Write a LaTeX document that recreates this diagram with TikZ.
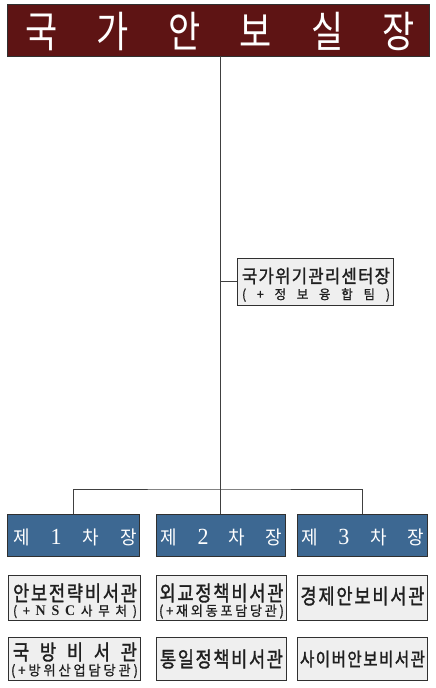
\documentclass[tikz,border=0pt]{standalone}
\usepackage{graphicx}
\usepackage{fontspec}
\newfontfamily\kr{Noto Sans CJK KR}
\newfontfamily\krm{Noto Sans CJK KR}[FakeBold=1.6]
\newfontfamily\krs{Noto Sans CJK KR}[FakeBold=1.0]
\newfontfamily\serd{Liberation Serif}
\definecolor{maroon}{HTML}{5E1414}
\definecolor{steel}{HTML}{3D6892}
\definecolor{boxgray}{HTML}{EFEFEF}
\definecolor{edge}{HTML}{303030}
\definecolor{linegray}{HTML}{404040}
\tikzset{
  titlebox/.style={draw=edge, fill=maroon, inner sep=0pt, line width=0.8pt},
  bluebox/.style={draw=edge, fill=steel, inner sep=0pt, line width=0.8pt},
  graybox/.style={draw=edge, fill=boxgray, inner sep=0pt, line width=0.8pt},
  whitetxt/.style={text=white, inner sep=0pt, font=\kr},
  darktxt/.style={text=black!88, inner sep=0pt, font=\krm},
  smalltxt/.style={text=black!88, inner sep=0pt, font=\krs},
  conn/.style={draw=linegray, line width=0.8pt},
}
\newcommand{\spr}[2]{\makebox[#1][s]{#2}}
\newcommand{\vs}[2]{\scalebox{1}[#1]{#2}}
\newcommand{\dg}[1]{{\serd\fontsize{22}{22}\selectfont #1}}
\newcommand{\lt}[1]{{\serd\bfseries\fontsize{14}{14}\selectfont #1}}
\begin{document}
\begin{tikzpicture}[x=1pt,y=-1pt]
\useasboundingbox (0,0) rectangle (436,688);
% ---------- boxes ----------
\node[titlebox, minimum width=422pt, minimum height=52pt] (t) at (218,30) {};
\node[graybox, minimum width=156pt, minimum height=47pt] (c) at (315,281.5) {};
\node[bluebox, minimum width=131.5pt, minimum height=42pt] (b1) at (73.25,535) {};
\node[bluebox, minimum width=129pt, minimum height=42pt] (b2) at (220.5,535) {};
\node[bluebox, minimum width=130pt, minimum height=42pt] (b3) at (362,535) {};
\node[graybox, minimum width=132pt, minimum height=45pt] (g1) at (74,597.5) {};
\node[graybox, minimum width=130pt, minimum height=45pt] (g2) at (221,597.5) {};
\node[graybox, minimum width=130pt, minimum height=45pt] (g3) at (362,597.5) {};
\node[graybox, minimum width=132pt, minimum height=43pt] (g4) at (74,658.5) {};
\node[graybox, minimum width=130pt, minimum height=43pt] (g5) at (221,658.5) {};
\node[graybox, minimum width=130pt, minimum height=43pt] (g6) at (362,658.5) {};
% ---------- texts ----------
\node[whitetxt] (tt) at (220,31.5)
  {\vs{1.22}{\fontsize{35}{37}\selectfont\spr{390pt}{국\hfill 가\hfill 안\hfill 보\hfill 실\hfill 장}}};
\node[darktxt] (ct1) at (316,276)
  {\vs{1.1}{\fontsize{16.6}{18}\selectfont\spr{148pt}{국\hfill 가\hfill 위\hfill 기\hfill 관\hfill 리\hfill 센\hfill 터\hfill 장}}};
\node[smalltxt] (ct2) at (316,295)
  {\vs{1.05}{\fontsize{12.5}{13}\selectfont\spr{148pt}{(\hfill +\hfill 정\hfill 보\hfill 융\hfill 합\hfill 팀\hfill )}}};
\node[whitetxt] (bt1) at (75,537)
  {\vs{1.05}{\fontsize{18}{19}\selectfont\spr{124pt}{제\hfill \dg{1}\hfill 차\hfill 장}}};
\node[whitetxt] (bt2) at (221.5,537)
  {\vs{1.05}{\fontsize{18}{19}\selectfont\spr{122pt}{제\hfill \dg{2}\hfill 차\hfill 장}}};
\node[whitetxt] (bt3) at (362.5,537)
  {\vs{1.05}{\fontsize{18}{19}\selectfont\spr{123pt}{제\hfill \dg{3}\hfill 차\hfill 장}}};
% row 1
\node[darktxt] (g1a) at (75,593)
  {\vs{1.2}{\fontsize{17.6}{19}\selectfont\spr{124pt}{안\hfill 보\hfill 전\hfill 략\hfill 비\hfill 서\hfill 관}}};
\node[smalltxt] (g1b) at (75,611.5)
  {\vs{1.05}{\fontsize{12.5}{13}\selectfont\spr{124pt}{(\hfill +\hfill \lt{N}\hfill \lt{S}\hfill \lt{C}\hfill 사\hfill 무\hfill 처\hfill )}}};
\node[darktxt] (g2a) at (221.5,593)
  {\vs{1.2}{\fontsize{17.6}{19}\selectfont\spr{124pt}{외\hfill 교\hfill 정\hfill 책\hfill 비\hfill 서\hfill 관}}};
\node[smalltxt] (g2b) at (221.5,611.5)
  {\vs{1.05}{\fontsize{13.2}{14}\selectfont\spr{125pt}{(\hfill +\hfill 재\hfill 외\hfill 동\hfill 포\hfill 담\hfill 당\hfill 관\hfill )}}};
\node[darktxt] (g3a) at (362.5,596)
  {\vs{1.2}{\fontsize{17.6}{19}\selectfont\spr{124pt}{경\hfill 제\hfill 안\hfill 보\hfill 비\hfill 서\hfill 관}}};
% row 2
\node[darktxt] (g4a) at (75,652)
  {\vs{1.2}{\fontsize{17.6}{19}\selectfont\spr{124pt}{국\hfill 방\hfill 비\hfill 서\hfill 관}}};
\node[smalltxt] (g4b) at (74.5,671)
  {\vs{1.05}{\fontsize{13.2}{14}\selectfont\spr{127pt}{(\hfill +\hfill 방\hfill 위\hfill 산\hfill 업\hfill 담\hfill 당\hfill 관\hfill )}}};
\node[darktxt] (g5a) at (221.5,659)
  {\vs{1.2}{\fontsize{17.6}{19}\selectfont\spr{123pt}{통\hfill 일\hfill 정\hfill 책\hfill 비\hfill 서\hfill 관}}};
\node[darktxt] (g6a) at (362.5,659)
  {\vs{1.2}{\fontsize{15.6}{17}\selectfont\spr{125pt}{사\hfill 이\hfill 버\hfill 안\hfill 보\hfill 비\hfill 서\hfill 관}}};
% ---------- connectors ----------
\coordinate (j) at (220.5,281.5);
\coordinate (bar) at (220.5,489);
\draw[conn] (t.south -| b2.north) -- (b2.north);
\draw[conn] (j) -- (c.west);
\draw[conn] (b1.north) |- (bar) -| (b3.north);
\end{tikzpicture}
\end{document}
